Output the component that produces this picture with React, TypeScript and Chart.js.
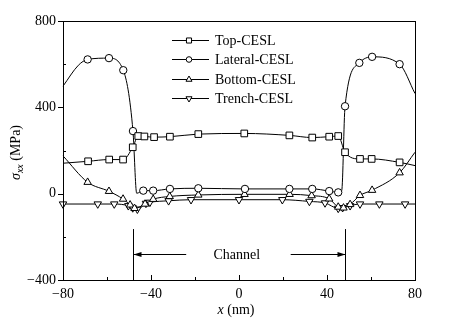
import React, { useEffect, useRef } from "react";
import { Chart, registerables } from "chart.js";

Chart.register(...registerables);

const FONT = "'Liberation Serif', 'Times New Roman', Times, serif";

// ---- data ----
const seriesNames = ["Top-CESL", "Lateral-CESL", "Bottom-CESL", "Trench-CESL"];

const topX = [-80, -68.6, -59, -52.7, -48.3, -45.8, -43, -38.6, -31.4, -18.5, 2.4, 22.9, 33.3, 41, 45.1, 48.2, 55, 60.3, 73, 80];
const topY = [141, 150, 158, 158, 215, 267, 265, 262, 264, 276, 279, 270, 260, 264, 267, 192, 161, 161, 145, 130];
const topMarks = [0, 1, 1, 1, 1, 1, 1, 1, 1, 1, 1, 1, 1, 1, 1, 1, 1, 1, 1, 0];

const latX = [-80, -73, -68.8, -59.1, -52.6, -48.2, -46.5, -43.5, -39, -31.4, -18.5, 2.7, 22.9, 33.3, 41, 45.1, 46.7, 48.2, 54.7, 60.5, 73, 80];
const latY = [498, 595, 622, 628, 572, 290, 2, 14, 14, 22, 25, 22, 22, 22, 12, 6, 15, 405, 606, 634, 600, 464];
const latMarks = [0, 0, 1, 1, 1, 1, 0, 1, 1, 1, 1, 1, 1, 1, 1, 1, 0, 1, 1, 1, 1, 0];

const botX = [-80, -68.8, -59.1, -52.7, -49.5, -47.5, -42.7, -39, -31.5, -18.5, 2.5, 23, 33, 41, 45.1, 47.5, 50.5, 55, 60.5, 73, 80];
const botY = [175, 53, 11, -25, -52, -68, -48, -26, -13, -6, -3, -3, -9, -24, -62, -66, -50, -8, 16, 97, 192];
const botMarks = [0, 1, 1, 1, 1, 1, 1, 1, 1, 1, 1, 1, 1, 1, 1, 1, 1, 1, 1, 1, 0];

const trX = [-80, -64.2, -56.7, -50.3, -48.3, -46.2, -42.3, -40.5, -32, -21.8, 0, 19.7, 32, 39.1, 45.1, 47.1, 50.5, 55, 63.8, 75.5, 80];
const trY = [-48, -48, -48, -56, -66, -72, -45, -40, -33, -28, -28, -28, -36, -43, -68, -65, -56, -48, -48, -48, -48];
const trMarks = [1, 1, 1, 1, 1, 1, 1, 1, 1, 1, 1, 1, 1, 1, 1, 1, 1, 1, 1, 1, 0];

const xMajorTicks = [-80, -40, 0, 40, 80];
const xMinorTicks = [-60, -20, 20, 60];
const yMajorTicks = [-400, 0, 400, 800];
const yMinorTicks = [-200, 200, 600];

const channelEdges = [-48, 48];
const channelTop = -164;
const arrowLevel = -281;
const arrowTails = [-24, 23.5];
const channelLabel = "Channel";
const channelLabelX = -1;

const fmt = (v: number) => (v < 0 ? "\u2212" + Math.abs(v) : String(v));

type Style = "rect" | "circle" | "triangle";
const styles: Style[] = ["rect", "circle", "triangle", "triangle"];
const rotations = [0, 0, 0, 180];
const radii = [4.7, 3.7, 4.3, 4.3];
const legendRadii = [3.6, 2.8, 3.5, 3.5];

function drawMarker(ctx: CanvasRenderingContext2D, style: Style, x: number, y: number, r: number, rotation: number) {
  ctx.beginPath();
  if (style === "rect") {
    const s = r * Math.SQRT1_2;
    ctx.rect(x - s, y - s, 2 * s, 2 * s);
  } else if (style === "circle") {
    ctx.arc(x, y, r, 0, Math.PI * 2);
  } else {
    let rad = (rotation * Math.PI) / 180;
    ctx.moveTo(x + Math.sin(rad) * r, y - Math.cos(rad) * r);
    rad += (2 * Math.PI) / 3;
    ctx.lineTo(x + Math.sin(rad) * r, y - Math.cos(rad) * r);
    rad += (2 * Math.PI) / 3;
    ctx.lineTo(x + Math.sin(rad) * r, y - Math.cos(rad) * r);
    ctx.closePath();
  }
  ctx.fillStyle = "#fff";
  ctx.fill();
  ctx.stroke();
}

const decorPlugin = {
  id: "decor",
  afterDraw(chart: any) {
    const ctx: CanvasRenderingContext2D = chart.ctx;
    const { left: L, right: R, top: T, bottom: B } = chart.chartArea;
    const xs = chart.scales.x;
    const ys = chart.scales.y;
    ctx.save();
    ctx.strokeStyle = "#000";
    ctx.fillStyle = "#000";
    ctx.lineWidth = 1;

    // frame
    ctx.strokeRect(Math.round(L) + 0.5, Math.round(T) + 0.5, Math.round(R - L), Math.round(B - T));

    // ticks
    const crisp = (v: number) => Math.round(v) + 0.5;
    ctx.beginPath();
    xMajorTicks.forEach((v) => {
      const px = crisp(xs.getPixelForValue(v));
      ctx.moveTo(px, B);
      ctx.lineTo(px, B - 5);
    });
    xMinorTicks.forEach((v) => {
      const px = crisp(xs.getPixelForValue(v));
      ctx.moveTo(px, B);
      ctx.lineTo(px, B - 3);
    });
    yMajorTicks.forEach((v) => {
      const py = crisp(ys.getPixelForValue(v));
      ctx.moveTo(L, py);
      ctx.lineTo(L - 5, py);
    });
    yMinorTicks.forEach((v) => {
      const py = crisp(ys.getPixelForValue(v));
      ctx.moveTo(L, py);
      ctx.lineTo(L + 3, py);
    });
    ctx.stroke();

    // channel annotation
    const ay = crisp(ys.getPixelForValue(arrowLevel));
    channelEdges.forEach((edge, i) => {
      const ex = crisp(xs.getPixelForValue(edge));
      ctx.beginPath();
      ctx.moveTo(ex, ys.getPixelForValue(channelTop));
      ctx.lineTo(ex, B);
      ctx.stroke();
      const tx = xs.getPixelForValue(arrowTails[i]);
      ctx.beginPath();
      ctx.moveTo(tx, ay);
      ctx.lineTo(ex, ay);
      ctx.stroke();
      const dir = ex > tx ? 1 : -1;
      ctx.beginPath();
      ctx.moveTo(ex, ay);
      ctx.lineTo(ex - dir * 8, ay - 2.5);
      ctx.lineTo(ex - dir * 8, ay + 2.5);
      ctx.closePath();
      ctx.fill();
    });
    ctx.font = `14px ${FONT}`;
    ctx.textAlign = "center";
    ctx.textBaseline = "middle";
    ctx.fillText(channelLabel, xs.getPixelForValue(channelLabelX), ay + 0.5);

    // legend
    seriesNames.forEach((name, i) => {
      const ly = Math.round(40 + i * 19.3) + 0.5;
      ctx.beginPath();
      ctx.moveTo(172, ly);
      ctx.lineTo(209, ly);
      ctx.stroke();
      drawMarker(ctx, styles[i], 189, ly, legendRadii[i], rotations[i]);
      ctx.fillStyle = "#000";
      ctx.textAlign = "left";
      ctx.textBaseline = "middle";
      ctx.font = `14px ${FONT}`;
      ctx.fillText(name, 215, ly + 1);
    });

    // y axis title: sigma_xx (MPa)
    ctx.save();
    ctx.translate(20, (T + B) / 2 + 2);
    ctx.rotate(-Math.PI / 2);
    ctx.textBaseline = "alphabetic";
    ctx.textAlign = "left";
    const fMain = `italic 14px ${FONT}`;
    const fSub = `italic 10px ${FONT}`;
    const fReg = `14px ${FONT}`;
    ctx.font = fMain;
    const w1 = ctx.measureText("\u03C3").width;
    ctx.font = fSub;
    const w2 = ctx.measureText("xx").width;
    ctx.font = fReg;
    const w3 = ctx.measureText(" (MPa)").width;
    let sx = -(w1 + w2 + w3) / 2;
    ctx.font = fMain;
    ctx.fillText("\u03C3", sx, 0);
    sx += w1;
    ctx.font = fSub;
    ctx.fillText("xx", sx, 3);
    sx += w2;
    ctx.font = fReg;
    ctx.fillText(" (MPa)", sx, 0);
    ctx.restore();

    // x axis title: x (nm)
    ctx.font = `italic 14px ${FONT}`;
    const xw1 = ctx.measureText("x").width;
    ctx.font = `14px ${FONT}`;
    const xw2 = ctx.measureText(" (nm)").width;
    const cx = (L + R) / 2 - 3;
    const xx = cx - (xw1 + xw2) / 2;
    ctx.textAlign = "left";
    ctx.textBaseline = "alphabetic";
    ctx.font = `italic 14px ${FONT}`;
    ctx.fillText("x", xx, 314);
    ctx.font = `14px ${FONT}`;
    ctx.fillText(" (nm)", xx + xw1, 314);

    ctx.restore();
  },
};

export default function App() {
  const ref = useRef<HTMLCanvasElement>(null);
  useEffect(() => {
    document.body.style.margin = "0";
    if (!ref.current) return;
    const mk = (i: number, xsArr: number[], ysArr: number[], marks: number[]) => ({
      label: seriesNames[i],
      data: xsArr.map((x, k) => ({ x, y: ysArr[k] })),
      borderColor: "#000",
      borderWidth: 1,
      backgroundColor: "#fff",
      pointBackgroundColor: "#fff",
      pointBorderColor: "#000",
      pointBorderWidth: 1,
      pointStyle: styles[i],
      pointRotation: rotations[i],
      pointRadius: (c: any) => (marks[c.dataIndex] ? radii[i] : 0),
      pointHoverRadius: 0,
      cubicInterpolationMode: "monotone" as const,
      clip: false as any,
    });
    const chart = new Chart(ref.current, {
      type: "line",
      data: {
        datasets: [
          mk(0, topX, topY, topMarks),
          mk(1, latX, latY, latMarks),
          mk(2, botX, botY, botMarks),
          mk(3, trX, trY, trMarks),
        ],
      },
      options: {
        animation: false,
        responsive: false,
        devicePixelRatio: 1,
        events: [],
        layout: { padding: { top: 21, right: 34, left: 0, bottom: 0 } },
        plugins: { legend: { display: false }, tooltip: { enabled: false } },
        scales: {
          x: {
            type: "linear",
            min: -80,
            max: 80,
            grid: { display: false, drawTicks: false },
            border: { display: false },
            afterBuildTicks: (s: any) => {
              s.ticks = xMajorTicks.map((v) => ({ value: v }));
            },
            afterFit: (s: any) => {
              s.height = 44;
            },
            ticks: {
              padding: 6,
              maxRotation: 0,
              color: "#000",
              font: { family: FONT, size: 14 },
              callback: (v: any) => fmt(Number(v)),
            },
          },
          y: {
            type: "linear",
            min: -400,
            max: 800,
            grid: { display: false, drawTicks: false },
            border: { display: false },
            afterBuildTicks: (s: any) => {
              s.ticks = yMajorTicks.map((v) => ({ value: v }));
            },
            afterFit: (s: any) => {
              s.width = 63;
            },
            ticks: {
              padding: 7,
              color: "#000",
              font: { family: FONT, size: 14 },
              callback: (v: any) => fmt(Number(v)),
            },
          },
        },
      },
      plugins: [decorPlugin],
    });
    return () => chart.destroy();
  }, []);
  return (
    <div style={{ position: "absolute", left: 0, top: 0, width: 449, height: 324, background: "#fff" }}>
      <canvas ref={ref} width={449} height={324} style={{ width: 449, height: 324, display: "block" }} />
    </div>
  );
}
